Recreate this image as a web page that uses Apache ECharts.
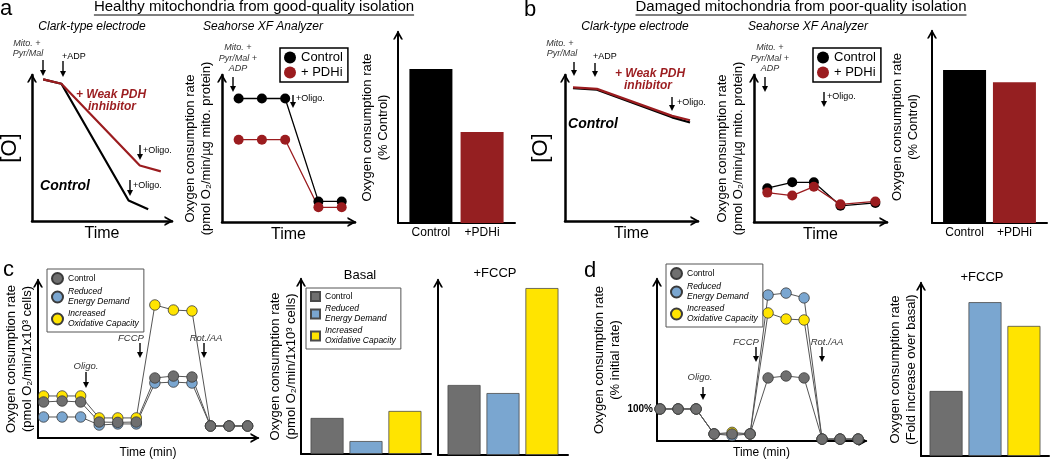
<!DOCTYPE html>
<html><head><meta charset="utf-8">
<script src="https://cdn.jsdelivr.net/npm/echarts@6/dist/echarts.min.js"></script>
<style>html,body{margin:0;padding:0;background:#fff}#c{width:1050px;height:459px}</style>
</head><body><div id="c"></div>
<script>
// ---------------- data ----------------
const titleA = 'Healthy mitochondria from good-quality isolation';
const titleB = 'Damaged mitochondria from poor-quality isolation';
const aClarkControl = [[0.8, 9.7], [2.1, 9.4], [6.9, 1.4], [8.3, 0.8]];
const aClarkPDHi = [[0.8, 9.7], [2.1, 9.4], [7.7, 3.8], [9.2, 3.4]];
const aSeaTime = [1.0, 2.4, 3.8, 5.8, 7.2];
const aSeaControl = [8.4, 8.4, 8.4, 1.4, 1.4];
const aSeaPDHi = [5.6, 5.6, 5.6, 1.0, 1.0];
const aBarValues = [100, 59];
const bClarkControl = [[0.6, 9.1], [2.4, 9.0], [8.05, 7.1], [9.4, 6.75]];
const bClarkPDHi = [[0.6, 9.15], [2.4, 9.05], [8.05, 7.2], [9.4, 6.9]];
const bSeaTime = [0.8, 2.3, 3.6, 5.2, 7.3];
const bSeaControl = [2.3, 2.7, 2.7, 1.1, 1.3];
const bSeaPDHi = [2.0, 1.8, 2.4, 1.2, 1.4];
const bBarValues = [100, 92];
const barGroupLabels = ['Control', '+PDHi'];
const seaLegend = ['Control', '+ PDHi'];
const cTime = [1, 2, 3, 4, 5, 6, 7, 8, 9, 10, 11, 12];
const cControl = [22.8, 23.4, 22.8, 10.1, 9.9, 10.1, 38.0, 39.2, 38.6, 7.6, 7.6, 7.6];
const cReduced = [13.3, 13.3, 13.3, 8.2, 8.9, 8.9, 34.8, 35.4, 34.8, 7.6, 7.6, 7.6];
const cIncreased = [26.6, 26.6, 26.6, 12.7, 12.7, 12.7, 84.2, 81.0, 80.4, 7.6, 7.6, 7.6];
const cBasal = [20.6, 7.4, 24.6];
const cFCCP = [40.0, 35.4, 95.4];
const dTime = [1, 2, 3, 4, 5, 6, 7, 8, 9, 10, 11, 12];
const dControl = [100, 100, 100, 22, 22, 22, 197, 203, 197, 6, 6, 6];
const dReduced = [100, 100, 100, 22, 17, 22, 456, 462, 447, 6, 6, 6];
const dIncreased = [100, 100, 100, 22, 27, 22, 400, 381, 378, 6, 6, 6];
const dFold = [1.97, 4.66, 3.94];
const groupLegend = [['Control'], ['Reduced', 'Energy Demand'], ['Increased', 'Oxidative Capacity']];
const groupItalic = [false, true, true];

// ---------------- styles ----------------
const FONT = '"Liberation Sans", Arial, Helvetica, sans-serif';
const RED = '#9b1c1f', BAR_RED = '#951f21';
const GRAY = '#6f6f6f', BLUE = '#7aa6d0', YELLOW = '#ffe400';
const GROUP_COLORS = [GRAY, BLUE, YELLOW];
const CHEV = 'path://M0,9L5,0L10,9L8.1,9L5,3.6L1.9,9Z';
const zip = (xs, ys) => xs.map((x, i) => [x, ys[i]]);

const grids = [
  {left: 32, top: 75, width: 140, height: 146},
  {left: 222, top: 75, width: 133, height: 147},
  {left: 398, top: 32, width: 117, height: 191},
  {left: 565, top: 75, width: 133, height: 146},
  {left: 754, top: 75, width: 133, height: 147},
  {left: 932, top: 31, width: 115, height: 192},
  {left: 38, top: 280, width: 220, height: 158},
  {left: 301, top: 279, width: 130, height: 175},
  {left: 438, top: 280, width: 130, height: 175},
  {left: 657, top: 279, width: 209, height: 162},
  {left: 921, top: 283, width: 128, height: 173}
].map(g => Object.assign({outerBoundsMode: 'none', containLabel: false}, g));

function aLine(w, arrow) {
  return {show: true, onZero: false, lineStyle: {color: '#000', width: w},
    symbol: arrow ? ['none', CHEV] : 'none', symbolSize: [10, 9], symbolOffset: [0, -3]};
}
function valAxis(gi, min, max, w, arrow, name, gap, fs, rotate) {
  return {type: 'value', gridIndex: gi, min, max, axisLine: aLine(w, arrow),
    axisTick: {show: false}, axisLabel: {show: false}, splitLine: {show: false},
    name: name || '', nameLocation: 'middle', nameGap: gap || 0, nameRotate: rotate ? 90 : 0,
    nameTextStyle: {fontFamily: FONT, fontSize: fs || 13, lineHeight: Math.round((fs || 13) * 1.25), color: '#000'}};
}
function catAxis(gi, w) {
  return {type: 'category', gridIndex: gi, data: ['g'], axisLine: aLine(w, false),
    axisTick: {show: false}, axisLabel: {show: false}, splitLine: {show: false}};
}
const OCR = 'Oxygen consumption rate';
const xAxes = [
  valAxis(0, 0, 10, 2.5, true, 'Time', 3, 16),
  valAxis(1, 0, 8, 2.5, true, 'Time', 3, 16),
  catAxis(2, 2),
  valAxis(3, 0, 10, 2.5, true, 'Time', 3, 16),
  valAxis(4, 0, 8, 2.5, true, 'Time', 3, 16),
  catAxis(5, 2),
  valAxis(6, 0.7, 12.56, 2, true, 'Time (min)', 7, 12),
  catAxis(7, 2),
  catAxis(8, 2),
  valAxis(9, 0.83, 12.44, 2, true, 'Time (min)', 4, 12),
  catAxis(10, 2)
];
const yAxes = [
  valAxis(0, 0, 10, 2.5, true, '[O]', 8, 22, true),
  valAxis(1, 0, 10, 2.5, true, OCR + '\n(pmol O₂/min/µg mito. protein)', 8, 13, true),
  valAxis(2, 0, 124, 2, true, OCR + '\n(% Control)', 7, 13, true),
  valAxis(3, 0, 10, 2.5, true, '[O]', 10, 22, true),
  valAxis(4, 0, 10, 2.5, true, OCR + '\n(pmol O₂/min/µg mito. protein)', 8, 13, true),
  valAxis(5, 0, 125.5, 2, true, OCR + '\n(% Control)', 11, 13, true),
  valAxis(6, 0, 100, 2, true, OCR + '\n(pmol O₂/min/1x10³ cells)', 3, 13, true),
  valAxis(7, 0, 100, 2, true, OCR + '\n(pmol O₂/min/1x10³ cells)', 2, 13, true),
  valAxis(8, 0, 100, 2, true),
  valAxis(9, 0, 506, 2, true, OCR + '\n(% initial rate)', 27, 13, true),
  valAxis(10, 0, 5.24, 2, true, OCR + '\n(Fold increase over basal)', 2, 13, true)
];
yAxes[9].interval = 100;
yAxes[9].axisLabel = {show: true, margin: 4, fontFamily: FONT, fontSize: 10, fontWeight: 'bold', color: '#000',
  formatter: v => (v === 100 ? '100%' : '')};

// ---------------- series ----------------
const series = [];
function plainLine(name, gi, data, color, w) {
  series.push({name, type: 'line', xAxisIndex: gi, yAxisIndex: gi, data, symbol: 'none',
    lineStyle: {color, width: w}, itemStyle: {color}, animation: false});
}
function dotLine(name, gi, data, color, lineColor, size, border) {
  series.push({name, type: 'line', xAxisIndex: gi, yAxisIndex: gi, data, symbol: 'circle', symbolSize: size,
    showAllSymbol: true, lineStyle: {color: lineColor, width: border ? 1 : 1.3},
    itemStyle: border ? {color, borderColor: '#3a3a3a', borderWidth: 0.8, opacity: 1} : {color, opacity: 1},
    animation: false});
}
function bar(name, gi, value, color, width, gap, label, border) {
  const s = {name, type: 'bar', xAxisIndex: gi, yAxisIndex: gi, data: [value], barWidth: width, barGap: gap,
    itemStyle: border ? {color, borderColor: '#4a4a4a', borderWidth: 0.8} : {color}, animation: false};
  if (label) s.label = {show: true, position: 'bottom', distance: 4, formatter: () => label,
    fontFamily: FONT, fontSize: 12, color: '#000'};
  series.push(s);
}
plainLine('a-clark-control', 0, aClarkControl, '#000', 2.2);
plainLine('a-clark-pdhi', 0, aClarkPDHi, RED, 2.2);
dotLine('a-sea-control', 1, zip(aSeaTime, aSeaControl), '#000', '#000', 10);
dotLine('a-sea-pdhi', 1, zip(aSeaTime, aSeaPDHi), RED, RED, 10);
bar('a-bar-control', 2, aBarValues[0], '#000', 43, '19%', barGroupLabels[0]);
bar('a-bar-pdhi', 2, aBarValues[1], BAR_RED, 43, '19%', barGroupLabels[1]);
plainLine('b-clark-control', 3, bClarkControl, '#000', 2.2);
plainLine('b-clark-pdhi', 3, bClarkPDHi, RED, 2.2);
dotLine('b-sea-control', 4, zip(bSeaTime, bSeaControl), '#000', '#000', 10);
dotLine('b-sea-pdhi', 4, zip(bSeaTime, bSeaPDHi), RED, RED, 10);
bar('b-bar-control', 5, bBarValues[0], '#000', 43, '16%', barGroupLabels[0]);
bar('b-bar-pdhi', 5, bBarValues[1], BAR_RED, 43, '16%', barGroupLabels[1]);
dotLine('c-increased', 6, zip(cTime, cIncreased), YELLOW, '#555', 10.5, true);
dotLine('c-reduced', 6, zip(cTime, cReduced), BLUE, '#555', 10.5, true);
dotLine('c-control', 6, zip(cTime, cControl), GRAY, '#555', 10.5, true);
['c2-control', 'c2-reduced', 'c2-increased'].forEach((n, i) => bar(n, 7, cBasal[i], GROUP_COLORS[i], 33, '18%', null, true));
['c3-control', 'c3-reduced', 'c3-increased'].forEach((n, i) => bar(n, 8, cFCCP[i], GROUP_COLORS[i], 33, '18%', null, true));
dotLine('d-increased', 9, zip(dTime, dIncreased), YELLOW, '#555', 10.5, true);
dotLine('d-reduced', 9, zip(dTime, dReduced), BLUE, '#555', 10.5, true);
dotLine('d-control', 9, zip(dTime, dControl), GRAY, '#555', 10.5, true);
['d2-control', 'd2-reduced', 'd2-increased'].forEach((n, i) => bar(n, 10, dFold[i], GROUP_COLORS[i], 33, '18%', null, true));

// ---------------- legends ----------------
const legendText = {'a-sea-control': seaLegend[0], 'a-sea-pdhi': seaLegend[1], 'b-sea-control': seaLegend[0], 'b-sea-pdhi': seaLegend[1]};
['c', 'c2', 'd'].forEach(p => ['control', 'reduced', 'increased'].forEach((g, i) => {
  const tag = groupItalic[i] ? 'i' : 'n';
  legendText[p + '-' + g] = groupLegend[i].map(t => '{' + tag + '|' + t + '}').join('\n');
}));
const fmt = n => legendText[n] || n;
const smallRich = {n: {fontFamily: FONT, fontSize: 8.5, lineHeight: 10, color: '#000'},
  i: {fontFamily: FONT, fontSize: 8.5, lineHeight: 10, fontStyle: 'italic', color: '#000'}};
function seaLeg(left, names) {
  return {left, top: 48, orient: 'vertical', data: names, icon: 'circle', itemWidth: 12, itemHeight: 12, itemGap: 2,
    padding: [3, 5, 3, 4], borderColor: '#000', borderWidth: 1.5, formatter: fmt, selectedMode: false,
    textStyle: {fontFamily: FONT, fontSize: 13, color: '#000'}};
}
function grpLeg(left, top, names, icon) {
  return {left, top, orient: 'vertical', data: names, icon, itemWidth: icon === 'rect' ? 9 : 11,
    itemHeight: icon === 'rect' ? 9 : 11, itemGap: 2, padding: [3, 5, 3, 4], borderColor: '#555', borderWidth: 1,
    formatter: fmt, selectedMode: false, textStyle: {fontFamily: FONT, fontSize: 8.5, lineHeight: 10, rich: smallRich}};
}
const legends = [
  seaLeg(280, ['a-sea-control', 'a-sea-pdhi']),
  seaLeg(813, ['b-sea-control', 'b-sea-pdhi']),
  grpLeg(47, 269, ['c-control', 'c-reduced', 'c-increased'], 'circle'),
  grpLeg(306, 288, ['c2-control', 'c2-reduced', 'c2-increased'], 'rect'),
  grpLeg(666, 264, ['d-control', 'd-reduced', 'd-increased'], 'circle')
];

// ---------------- annotations ----------------
const G = [];
const F = (s) => s + ' ' + FONT;
function txt(x, y, text, font, o) {
  G.push({type: 'text', x, y, silent: true, z: 50,
    style: Object.assign({text, font: F(font), fill: '#000', textAlign: 'center', textVerticalAlign: 'middle'}, o || {})});
}
function arrow(x, y1, y2) {
  G.push({type: 'line', silent: true, z: 50, shape: {x1: x, y1, x2: x, y2: y2 - 4}, style: {stroke: '#000', lineWidth: 1.4}});
  G.push({type: 'polygon', silent: true, z: 50, shape: {points: [[x - 3, y2 - 6], [x + 3, y2 - 6], [x, y2]]}, style: {fill: '#000'}});
}
const measureCtx = document.createElement('canvas').getContext('2d');
function title(cx, y, text) {
  txt(cx, y, text, '15px');
  measureCtx.font = F('15px');
  const w = measureCtx.measureText(text).width;
  G.push({type: 'line', silent: true, z: 50, shape: {x1: cx - w / 2, y1: y + 8, x2: cx + w / 2, y2: y + 8}, style: {stroke: '#000', lineWidth: 1}});
}
const L = {textAlign: 'left'};
const DG = {fill: '#333'};
// panel a
txt(0, 9, 'a', '22px', L);
title(254, 7, titleA);
txt(92, 27, 'Clark-type electrode', 'italic 12px');
txt(263, 27, 'Seahorse XF Analyzer', 'italic 12px');
txt(27, 43, 'Mito. +', 'italic 9px', DG); txt(28, 53, 'Pyr/Mal', 'italic 9px', DG);
arrow(43, 60, 76);
txt(62, 57, '+ADP', '9px', L); arrow(63, 61, 77);
txt(111, 95, '+ Weak PDH', 'italic bold 12px', {fill: RED}); txt(112, 107, 'inhibitor', 'italic bold 12px', {fill: RED});
arrow(140, 145, 160); txt(143, 151, '+Oligo.', '9px', L);
arrow(130, 180, 196); txt(133, 186, '+Oligo.', '9px', L);
txt(65, 186, 'Control', 'italic bold 14px');
txt(238, 47, 'Mito. +', 'italic 9px', DG); txt(238, 58, 'Pyr/Mal +', 'italic 9px', DG); txt(238, 68, 'ADP', 'italic 9px', DG);
arrow(233, 77, 92);
arrow(293, 95, 108); txt(296, 99, '+Oligo.', '9px', L);
// panel b
txt(524, 10, 'b', '22px', L);
title(801, 7, titleB);
txt(635, 27, 'Clark-type electrode', 'italic 12px');
txt(808, 27, 'Seahorse XF Analyzer', 'italic 12px');
txt(560, 43, 'Mito. +', 'italic 9px', DG); txt(562, 53, 'Pyr/Mal', 'italic 9px', DG);
arrow(574, 62, 76);
txt(593, 57, '+ADP', '9px', L); arrow(595, 63, 77);
txt(650, 74, '+ Weak PDH', 'italic bold 12px', {fill: RED}); txt(648, 86, 'inhibitor', 'italic bold 12px', {fill: RED});
arrow(672, 97, 111); txt(677, 103, '+Oligo.', '9px', L);
txt(593, 124, 'Control', 'italic bold 14px');
txt(770, 47, 'Mito. +', 'italic 9px', DG); txt(770, 58, 'Pyr/Mal +', 'italic 9px', DG); txt(770, 68, 'ADP', 'italic 9px', DG);
arrow(765, 77, 92);
arrow(824, 92, 107); txt(827, 97, '+Oligo.', '9px', L);
// panel c
txt(3, 270, 'c', '22px', L);
txt(86, 366, 'Oligo.', 'italic 9.5px', DG); arrow(86, 372, 388);
txt(131, 338, 'FCCP', 'italic 9.5px', DG); arrow(140, 343, 358);
txt(206, 338, 'Rot./AA', 'italic 9.5px', DG); arrow(204, 343, 358);
txt(360, 275, 'Basal', '13px');
txt(495, 273, '+FCCP', '13px');
// panel d
txt(584, 271, 'd', '22px', L);
txt(700, 377, 'Oligo.', 'italic 9.5px', DG); arrow(703, 387, 400);
txt(746, 342, 'FCCP', 'italic 9.5px', DG); arrow(756, 347, 362);
txt(827, 342, 'Rot./AA', 'italic 9.5px', DG); arrow(822, 347, 362);
txt(982, 277, '+FCCP', '13px');

const chart = echarts.init(document.getElementById('c'), null, {renderer: 'canvas', width: 1050, height: 459});
chart.setOption({
  animation: false,
  backgroundColor: '#fff',
  textStyle: {fontFamily: FONT},
  grid: grids,
  xAxis: xAxes,
  yAxis: yAxes,
  legend: legends,
  series,
  graphic: {elements: G}
});
</script></body></html>
